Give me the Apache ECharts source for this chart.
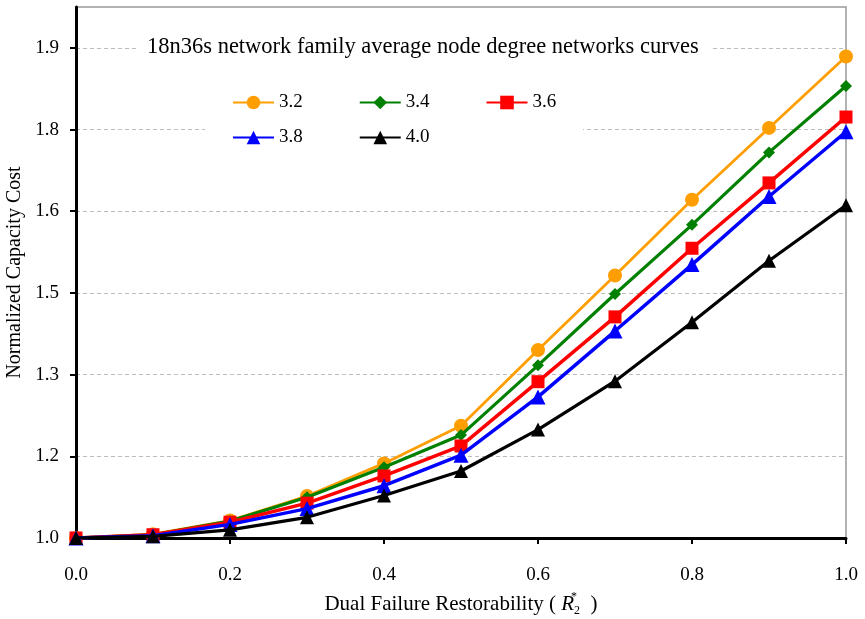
<!DOCTYPE html>
<html>
<head>
<meta charset="utf-8">
<script src="https://cdn.jsdelivr.net/npm/echarts@6/dist/echarts.min.js"></script>
<style>
html,body{margin:0;padding:0;background:#fff;}
#chart{width:865px;height:619px;}
</style>
</head>
<body>
<div id="chart"></div>
<script>
const xValues = [0.0, 0.1, 0.2, 0.3, 0.4, 0.5, 0.6, 0.7, 0.8, 0.9, 1.0];
const seriesNames = ['3.2', '3.4', '3.6', '3.8', '4.0'];
const s32 = [1.000, 1.007, 1.032, 1.077, 1.137, 1.206, 1.345, 1.482, 1.621, 1.753, 1.884];
const s34 = [1.000, 1.006, 1.031, 1.075, 1.130, 1.189, 1.317, 1.448, 1.575, 1.708, 1.830];
const s36 = [1.000, 1.006, 1.029, 1.064, 1.114, 1.169, 1.287, 1.406, 1.532, 1.652, 1.773];
const s38 = [1.000, 1.004, 1.025, 1.054, 1.096, 1.152, 1.259, 1.380, 1.502, 1.627, 1.746];
const s40 = [1.000, 1.003, 1.015, 1.038, 1.078, 1.123, 1.199, 1.288, 1.396, 1.509, 1.611];
const yTicks = [1.0, 1.15, 1.3, 1.45, 1.6, 1.75, 1.9];
const xTicks = [0.0, 0.2, 0.4, 0.6, 0.8, 1.0];
const titleText = '18n36s network family average node degree networks curves';

const FONT = "'Liberation Serif', 'Times New Roman', serif";
const allValues = [s32, s34, s36, s38, s40];
const colors = ['#FF9E00', '#008000', '#FF0000', '#0000FF', '#000000'];
const symbols = ['circle', 'diamond', 'rect', 'triangle', 'triangle'];
const symbolSizes = [14, 12, 13, 15, 14];
const lineWidths = [2.8, 3.2, 3.5, 3.5, 3.2];

const series = seriesNames.map((name, i) => ({
  name: name,
  type: 'line',
  data: xValues.map((x, j) => [x, allValues[i][j]]),
  symbol: symbols[i],
  symbolSize: symbolSizes[i],
  showAllSymbol: true,
  color: colors[i],
  itemStyle: { color: colors[i] },
  lineStyle: { color: colors[i], width: lineWidths[i] },
  emphasis: { disabled: true },
  z: 3 + i
}));

const fmt1 = v => (Math.round(v * 10 + 1e-6) / 10).toFixed(1);

const legendCommon = {
  orient: 'horizontal',
  padding: 0,
  itemWidth: 41,
  itemHeight: 17,
  itemGap: 56,
  textStyle: { fontFamily: FONT, fontSize: 19, color: '#000' },
  selectedMode: false,
  z: 10
};

const option = {
  animation: false,
  backgroundColor: '#fff',
  title: {
    text: titleText,
    left: 137,
    top: 33,
    padding: [3, 14, 3, 10],
    backgroundColor: '#fff',
    textStyle: { fontFamily: FONT, fontSize: 22.5, fontWeight: 'normal', color: '#000' },
    z: 10
  },
  legend: [
    Object.assign({}, legendCommon, { data: seriesNames.slice(0, 3), left: 232, top: 93 }),
    Object.assign({}, legendCommon, { data: seriesNames.slice(3), left: 232, top: 128 })
  ],
  graphic: [{
    type: 'rect',
    shape: { x: 205, y: 86, width: 378, height: 64 },
    style: { fill: '#fff' },
    z: 1
  }],
  grid: {
    left: 76, right: 19, top: 7, bottom: 81,
    containLabel: false,
    outerBoundsMode: 'none',
    show: true, borderColor: '#999', borderWidth: 1.5, backgroundColor: 'transparent'
  },
  xAxis: {
    type: 'value',
    min: 0, max: 1.0,
    interval: 0.2,
    name: 'Dual Failure Restorability ( {i|R}{sup|*}{sub|2}  )',
    nameLocation: 'middle',
    nameGap: 53,
    nameTextStyle: {
      fontFamily: FONT, fontSize: 21, color: '#000',
      rich: {
        i: { fontFamily: FONT, fontSize: 21, fontStyle: 'italic', color: '#000' },
        sup: { fontFamily: FONT, fontSize: 12, color: '#000', verticalAlign: 'top', width: 0, lineHeight: 26 },
        sub: { fontFamily: FONT, fontSize: 12, color: '#000', verticalAlign: 'bottom', lineHeight: 26 }
      }
    },
    axisLine: { show: true, onZero: false, lineStyle: { color: '#000', width: 3 } },
    axisTick: { show: true, inside: false, length: 6, customValues: xTicks, lineStyle: { color: '#000', width: 2 } },
    axisLabel: {
      customValues: xTicks,
      formatter: v => v.toFixed(1),
      fontFamily: FONT, fontSize: 19, color: '#000', margin: 28
    },
    splitLine: { show: false }
  },
  yAxis: {
    type: 'value',
    min: 1.0, max: 1.975,
    name: 'Normalized Capacity Cost',
    nameLocation: 'middle',
    nameGap: 47,
    nameTextStyle: { fontFamily: FONT, fontSize: 20, color: '#000' },
    axisLine: { show: true, onZero: false, lineStyle: { color: '#000', width: 3 } },
    axisTick: { show: true, inside: false, length: 6, customValues: yTicks, lineStyle: { color: '#000', width: 2 } },
    axisLabel: {
      customValues: yTicks,
      formatter: v => fmt1(v),
      fontFamily: FONT, fontSize: 19, color: '#000', margin: 17
    },
    splitLine: { show: true, lineStyle: { color: '#BDBDBD', width: 1, type: [4, 3] } }
  },
  series: series
};

const chart = echarts.init(document.getElementById('chart'), null, { renderer: 'canvas' });
chart.setOption(option);
</script>
</body>
</html>
